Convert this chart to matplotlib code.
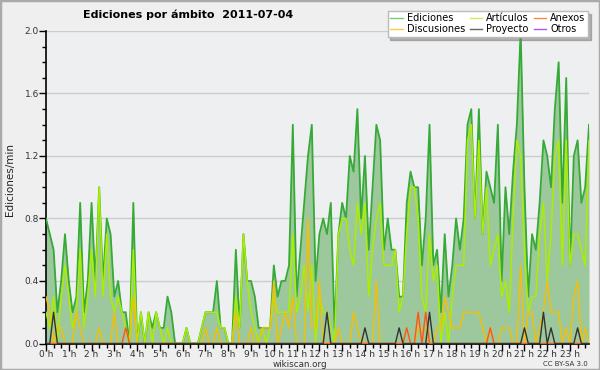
import matplotlib
matplotlib.use('Agg')
import matplotlib.pyplot as plt
from matplotlib.lines import Line2D
from matplotlib.patches import Rectangle
import numpy as np

plt.rcParams['font.family'] = ['DejaVu Sans Condensed', 'Liberation Sans Narrow', 'DejaVu Sans']

# 10-minute bins over the day, values in edits/min
ediciones = [
    0.8, 0.7, 0.6, 0.2, 0.4, 0.7, 0.4, 0.2, 0.3, 0.9,
    0.2, 0.4, 0.9, 0.4, 1.0, 0.4, 0.8, 0.7, 0.3, 0.4,
    0.2, 0.2, 0.0, 0.9, 0.0, 0.2, 0.0, 0.2, 0.1, 0.2,
    0.1, 0.1, 0.3, 0.2, 0.0, 0.0, 0.0, 0.1, 0.0, 0.0,
    0.0, 0.1, 0.2, 0.2, 0.2, 0.4, 0.1, 0.1, 0.0, 0.0,
    0.6, 0.1, 0.7, 0.4, 0.4, 0.3, 0.1, 0.1, 0.1, 0.1,
    0.5, 0.3, 0.4, 0.4, 0.5, 1.4, 0.3, 0.6, 0.9, 1.2,
    1.4, 0.4, 0.7, 0.8, 0.7, 0.9, 0.1, 0.7, 0.9, 0.8,
    1.2, 1.1, 1.5, 0.8, 1.2, 0.6, 1.0, 1.4, 1.3, 0.6,
    0.8, 0.6, 0.6, 0.3, 0.3, 0.9, 1.1, 1.0, 1.0, 0.5,
    0.8, 1.4, 0.5, 0.6, 0.2, 0.7, 0.3, 0.5, 0.8, 0.6,
    0.8, 1.4, 1.5, 0.8, 1.5, 0.7, 1.1, 1.0, 0.9, 1.4,
    0.4, 1.0, 0.7, 1.1, 1.4, 2.0, 1.0, 0.3, 0.7, 0.6,
    0.9, 1.3, 1.2, 1.0, 1.5, 1.8, 0.9, 1.7, 0.5, 1.2,
    1.3, 0.9, 1.0, 1.4,
]

articulos = [
    0.2, 0.1, 0.3, 0.0, 0.3, 0.5, 0.3, 0.1, 0.2, 0.6,
    0.1, 0.3, 0.6, 0.3, 1.0, 0.3, 0.7, 0.3, 0.2, 0.3,
    0.2, 0.1, 0.0, 0.6, 0.0, 0.2, 0.0, 0.2, 0.0, 0.2,
    0.1, 0.0, 0.1, 0.0, 0.0, 0.0, 0.0, 0.1, 0.0, 0.0,
    0.0, 0.1, 0.2, 0.2, 0.2, 0.2, 0.1, 0.1, 0.0, 0.0,
    0.3, 0.1, 0.7, 0.4, 0.2, 0.1, 0.0, 0.1, 0.0, 0.1,
    0.3, 0.2, 0.2, 0.2, 0.2, 0.7, 0.2, 0.3, 0.5, 0.2,
    0.5, 0.0, 0.3, 0.2, 0.2, 0.1, 0.0, 0.7, 0.8, 0.8,
    0.6, 0.5, 0.9, 0.7, 0.9, 0.3, 0.6, 0.8, 0.9, 0.5,
    0.5, 0.5, 0.6, 0.2, 0.3, 0.7, 1.0, 1.0, 0.8, 0.3,
    0.2, 0.7, 0.4, 0.5, 0.0, 0.2, 0.0, 0.3, 0.5, 0.5,
    0.5, 1.3, 1.4, 0.8, 1.3, 0.7, 1.0, 0.5, 0.6, 0.7,
    0.3, 0.4, 0.2, 0.8, 1.3, 1.2, 0.6, 0.2, 0.3, 0.3,
    0.7, 0.9, 0.4, 0.7, 1.2, 1.3, 0.5, 1.3, 0.5, 0.7,
    0.7, 0.6, 0.5, 1.3,
]

discusiones = [
    0.3, 0.2, 0.0, 0.1, 0.1, 0.0, 0.0, 0.0, 0.2, 0.1,
    0.0, 0.0, 0.0, 0.0, 0.1, 0.0, 0.0, 0.0, 0.2, 0.0,
    0.0, 0.0, 0.0, 0.3, 0.0, 0.0, 0.0, 0.0, 0.0, 0.0,
    0.0, 0.0, 0.0, 0.0, 0.0, 0.0, 0.0, 0.0, 0.0, 0.0,
    0.0, 0.0, 0.1, 0.0, 0.0, 0.1, 0.0, 0.0, 0.0, 0.0,
    0.2, 0.0, 0.0, 0.0, 0.1, 0.0, 0.0, 0.1, 0.1, 0.1,
    0.4, 0.0, 0.1, 0.2, 0.1, 0.3, 0.0, 0.0, 0.0, 0.8,
    0.1, 0.1, 0.4, 0.0, 0.0, 0.0, 0.0, 0.1, 0.0, 0.0,
    0.0, 0.2, 0.1, 0.0, 0.0, 0.0, 0.0, 0.4, 0.0, 0.0,
    0.0, 0.0, 0.0, 0.0, 0.0, 0.0, 0.0, 0.0, 0.1, 0.1,
    0.1, 0.0, 0.0, 0.1, 0.1, 0.3, 0.2, 0.1, 0.1, 0.1,
    0.2, 0.2, 0.2, 0.2, 0.2, 0.1, 0.0, 0.1, 0.0, 0.0,
    0.1, 0.1, 0.1, 0.0, 0.0, 0.5, 0.0, 0.2, 0.2, 0.0,
    0.1, 0.2, 0.4, 0.2, 0.2, 0.2, 0.0, 0.1, 0.0, 0.3,
    0.4, 0.0, 0.1, 0.0,
]

# sparse series: bin index -> value
anexos_bins = [21, 95, 98, 100, 117]
anexos_vals = [0.1, 0.1, 0.2, 0.2, 0.1]
proyecto_bins = [2, 74, 84, 93, 101, 126, 131, 133, 140]
proyecto_vals = [0.2, 0.2, 0.1, 0.1, 0.2, 0.1, 0.2, 0.1, 0.1]

hour_labels = [f'{h} h' for h in range(24)]

n = len(ediciones)
x = np.arange(n) / 6.0
anexos = np.zeros(n)
anexos[anexos_bins] = anexos_vals
proyecto = np.zeros(n)
proyecto[proyecto_bins] = proyecto_vals
otros = np.zeros(n)

bg = '#eeeff1'
fig = plt.figure(figsize=(6, 3.7), dpi=100, facecolor='#efefef')
ax = fig.add_axes([46 / 600, 1 - 343.5 / 370, 543 / 600, 312.5 / 370])
ax.set_facecolor(bg)

ax.plot(x, otros, color='#9933ff', lw=1, zorder=2)
ax.fill_between(x, 0, ediciones, color='#9dc79d', lw=0, zorder=2)
ax.plot(x, ediciones, color='#36aa36', lw=1.3, zorder=3)
ax.plot(x, articulos, color='#aaee00', lw=1.1, zorder=4)
ax.plot(x, discusiones, color='#f5c000', lw=1.0, zorder=5)
ax.plot(x, anexos, color='#ff5511', lw=1.0, zorder=6)
ax.plot(x, proyecto, color='#333333', lw=1.0, zorder=7)

ax.set_xlim(0, (n - 1) / 6.0)
ax.set_ylim(0, 2.0)
ax.set_yticks(np.arange(0, 2.01, 0.4))
ax.set_yticklabels([f'{v:.1f}' for v in np.arange(0, 2.01, 0.4)])
ax.set_yticks(np.arange(0, 2.01, 0.1), minor=True)
ax.set_xticks(range(24))
ax.set_xticklabels(hour_labels)
ax.set_xticks(np.arange(0, 24, 1 / 3), minor=True)
ax.tick_params(axis='both', which='major', length=5, width=1, labelsize=6.5,
               labelcolor='#333333', pad=0)
ax.tick_params(axis='both', which='minor', length=3, width=1)
ax.grid(axis='y', color='#cccccc', lw=1)
ax.set_axisbelow(True)
for side in ['top', 'right']:
    ax.spines[side].set_visible(False)
for side in ['left', 'bottom']:
    ax.spines[side].set_linewidth(1.2)

fig.text(10 / 600, 1 - 180 / 370, 'Ediciones/min', rotation=90, fontsize=7.5,
         ha='center', va='center', color='#222222')
fig.text(188 / 600, 1 - 15 / 370, 'Ediciones por ámbito  2011-07-04',
         fontsize=8, fontweight='bold', ha='center', va='center')
fig.text(0.5, 1 - 364.5 / 370, 'wikiscan.org', fontsize=6.3, ha='center',
         va='center', color='#333333')
fig.text(588 / 600, 1 - 364 / 370, 'CC BY-SA 3.0', fontsize=5, ha='right',
         va='center', color='#333333')

handles = [
    Line2D([], [], color='#77cc77', lw=1),
    Line2D([], [], color='#ffcc44', lw=1),
    Line2D([], [], color='#ccee55', lw=1),
    Line2D([], [], color='#666666', lw=1),
    Line2D([], [], color='#ff8844', lw=1),
    Line2D([], [], color='#aa55ff', lw=1),
]
names = ['Ediciones', 'Discusiones', 'Artículos', 'Proyecto', 'Anexos', 'Otros']
leg = fig.legend(handles, names, ncol=3, loc='upper right',
                 bbox_to_anchor=(588 / 600, 1 - 11 / 370), fontsize=7,
                 frameon=True, fancybox=False, shadow={'color': '#777777'},
                 borderpad=0.25, labelspacing=0.1, handlelength=1.3,
                 handletextpad=0.4, columnspacing=0.5, borderaxespad=0)
leg.get_frame().set_edgecolor('#bbbbbb')
leg.get_frame().set_facecolor('white')
leg.set_zorder(10)

fig.patches.append(Rectangle((0, 0), 1, 1, transform=fig.transFigure,
                             fill=False, edgecolor='#aaaaaa', lw=2.5))

fig.savefig('out.png', dpi=100, facecolor=fig.get_facecolor())
